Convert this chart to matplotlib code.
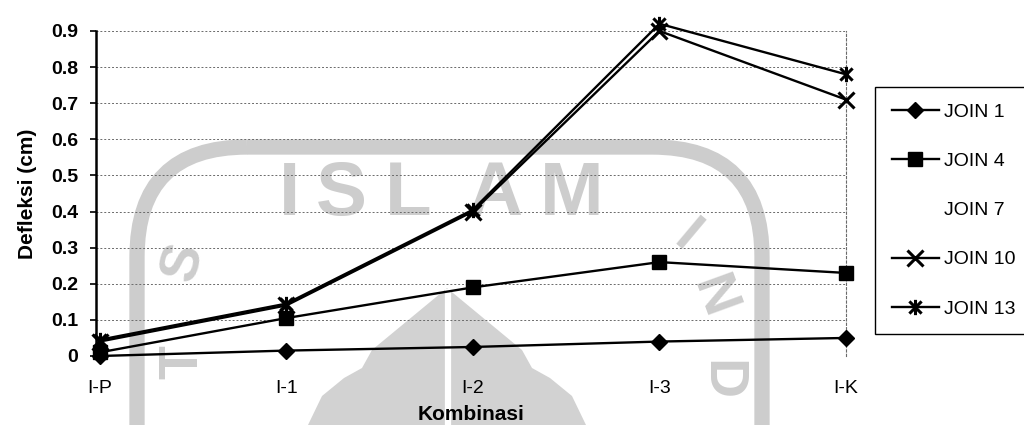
import matplotlib
matplotlib.use("Agg")
import matplotlib.pyplot as plt
from matplotlib.lines import Line2D
from matplotlib.path import Path
from matplotlib.patches import FancyBboxPatch, Polygon
from matplotlib.transforms import Affine2D

# ---- data -------------------------------------------------------------
categories = ["I-P", "I-1", "I-2", "I-3", "I-K"]
join1 = [0.00, 0.015, 0.025, 0.04, 0.05]
join4 = [0.01, 0.105, 0.19, 0.26, 0.23]
join10 = [0.04, 0.14, 0.40, 0.90, 0.71]
join13 = [0.045, 0.145, 0.405, 0.92, 0.78]
y_ticks = [0, 0.1, 0.2, 0.3, 0.4, 0.5, 0.6, 0.7, 0.8, 0.9]
y_ticklabels = ["0", "0.1", "0.2", "0.3", "0.4", "0.5", "0.6", "0.7", "0.8", "0.9"]

plt.rcParams["font.family"] = ["Liberation Sans", "DejaVu Sans"]

W, H = 1024, 425
fig = plt.figure(figsize=(W / 100, H / 100), dpi=100)

# pixel-based transform for the background emblem
px = Affine2D().scale(1 / W, -1 / H).translate(0, 1) + fig.transFigure

# ---- faint background emblem -----------------------------------------
wm = "#cdcdcd"
ring = FancyBboxPatch((137, 147), 625, 420,
                      boxstyle="round,pad=0,rounding_size=110",
                      transform=px, fill=False, edgecolor=wm, lw=11, zorder=-5)
fig.add_artist(ring)
emblem = Polygon([(447, 288), (522, 350), (532, 368), (550, 378), (572, 396),
                  (586, 425), (308, 425), (322, 396), (344, 378), (362, 368),
                  (372, 350)], closed=True,
                 transform=px, facecolor="#d2d2d2", edgecolor="none", zorder=-5)
fig.add_artist(emblem)
fig.add_artist(Line2D([448, 448], [292, 425], transform=px, color="white",
                      lw=4.5, zorder=-4))
for ch, x in zip("ISLAM", [290, 341, 408, 495, 572]):
    fig.text(x, 196, ch, transform=px, fontsize=55, fontweight="bold",
             color=wm, ha="center", va="center", zorder=-5)
for ch, x, y, rot in [("S", 184, 262, 75), ("T", 183, 362, 90),
                      ("I", 686, 237, -40), ("N", 712, 297, -70),
                      ("D", 720, 380, -90)]:
    fig.text(x, y, ch, transform=px, fontsize=40, fontweight="bold",
             color=wm, ha="center", va="center", rotation=rot, zorder=-5)

# ---- axes -------------------------------------------------------------
ax = fig.add_axes([96 / W, 1 - 356 / H, (846 - 96) / W, (356 - 31) / H])
ax.patch.set_alpha(0)

x = list(range(len(categories)))

asterisk = Path([(-1, -1), (1, 1), (-1, 1), (1, -1), (0, -1.25), (0, 1.25)],
                [Path.MOVETO, Path.LINETO, Path.MOVETO, Path.LINETO,
                 Path.MOVETO, Path.LINETO])

lw = 1.7
h1, = ax.plot(x, join1, color="black", lw=lw, marker="D", ms=8.5,
              clip_on=False, zorder=3, label="JOIN 1")
h4, = ax.plot(x, join4, color="black", lw=lw, marker="s", ms=10.5,
              clip_on=False, zorder=3, label="JOIN 4")
h10, = ax.plot(x, join10, color="black", lw=lw, marker="x", ms=11, mew=2.2,
               clip_on=False, zorder=3, label="JOIN 10")
h13, = ax.plot(x, join13, color="black", lw=lw, marker=asterisk, ms=11,
               mew=2.2, clip_on=False, zorder=3, label="JOIN 13")
h7 = Line2D([], [], linestyle="none", marker="none", label="JOIN 7")

ax.set_xlim(-0.02, 4.0)
ax.set_ylim(0, 0.9)
ax.set_xticks(x)
ax.set_xticklabels(categories, fontsize=14)
ax.set_yticks(y_ticks)
ax.set_yticklabels(y_ticklabels, fontsize=14, fontweight="bold")
ax.tick_params(axis="x", length=0, pad=17)
ax.tick_params(axis="y", length=4, width=1.2, pad=9, direction="out")

ax.grid(axis="y", color="#6a6a6a", lw=0.7, ls=(0, (2, 2)))
ax.set_axisbelow(True)
for s in ["top", "bottom"]:
    ax.spines[s].set_visible(False)
ax.spines["right"].set_linestyle((0, (2, 2)))
ax.spines["right"].set_linewidth(0.8)
ax.spines["right"].set_color("#6a6a6a")
ax.spines["left"].set_linewidth(1.8)

ax.set_xlabel("Kombinasi", fontsize=15, fontweight="bold", labelpad=6)
ax.set_ylabel("Defleksi (cm)", fontsize=15, fontweight="bold", labelpad=10)

leg = fig.legend(handles=[h1, h4, h7, h10, h13],
                 labels=["JOIN 1", "JOIN 4", "JOIN 7", "JOIN 10", "JOIN 13"],
                 loc="upper left",
                 bbox_to_anchor=(875 / W, 0, 160 / W, 1 - 87 / H),
                 mode="expand", borderaxespad=0, fontsize=14,
                 handlelength=2.45, handletextpad=0.25, labelspacing=1.62,
                 borderpad=0.85, fancybox=False, framealpha=1)
leg.get_frame().set_edgecolor("black")
leg.get_frame().set_linewidth(1.0)

fig.savefig("out.png", dpi=100)
